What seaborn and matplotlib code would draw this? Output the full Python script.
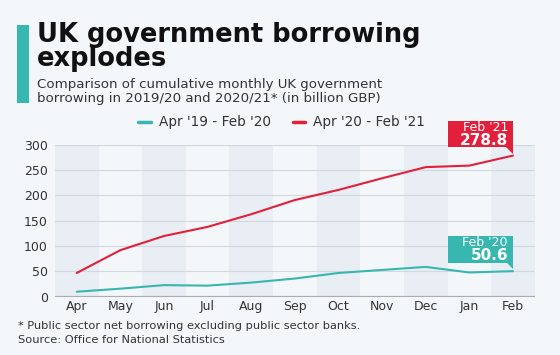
import numpy as np
import pandas as pd
import seaborn as sns
import matplotlib.pyplot as plt
from matplotlib.patches import Rectangle, Polygon
from matplotlib.transforms import ScaledTranslation
from matplotlib.lines import Line2D

# Data (cumulative borrowing, billion GBP)
months = ["Apr", "May", "Jun", "Jul", "Aug", "Sep", "Oct", "Nov", "Dec", "Jan", "Feb"]
borrow_1920 = [10, 16, 23, 22, 28, 36, 47, 53, 59, 48, 50.6]
borrow_2021 = [47, 92, 120, 138, 163, 191, 211, 234, 256, 259, 278.8]
series_names = ["Apr '19 - Feb '20", "Apr '20 - Feb '21"]
end_labels = ["Feb '20", "Feb '21"]

teal = "#38b6b0"
red = "#e3203b"
bg = "#f4f7fa"
band = "#e9eef5"

df = pd.DataFrame({
    "month": months * 2,
    "x": list(range(len(months))) * 2,
    "value": borrow_1920 + borrow_2021,
    "series": [series_names[0]] * len(months) + [series_names[1]] * len(months),
})

sns.set_style("white")
plt.rcParams["font.family"] = ["DejaVu Sans"]

fig = plt.figure(figsize=(5.6, 3.55), dpi=100, facecolor=bg)
ax = fig.add_axes([0.098, 0.164, 0.857, 0.428])
ax.set_facecolor(bg)

# alternating month bands
for i in range(0, len(months), 2):
    ax.axvspan(i - 0.5, i + 0.5, color=band, lw=0, zorder=0)

sns.lineplot(data=df, x="x", y="value", hue="series", palette=[teal, red],
             linewidth=1.5, legend=False, ax=ax, zorder=3)

ax.set_xlim(-0.5, len(months) - 0.5)
ax.set_ylim(0, 300)
ax.set_yticks([0, 50, 100, 150, 200, 250, 300])
ax.set_xticks(range(len(months)))
ax.set_xticklabels(months)
ax.tick_params(axis="both", length=0, labelsize=9, colors="#333333")
ax.tick_params(axis="x", pad=2)
ax.tick_params(axis="y", pad=5)
ax.yaxis.grid(True, color="#d3d8de", lw=0.8, zorder=1)
ax.set_axisbelow(True)
ax.set_xlabel("")
ax.set_ylabel("")
for s in ax.spines.values():
    s.set_visible(False)
ax.axhline(0, color="#a9adb2", lw=1.6, zorder=2)


# end-value callouts
def callout(xv, yv, label, value, color):
    tr = fig.dpi_scale_trans + ScaledTranslation(xv, yv, ax.transData)
    ax.add_patch(Rectangle((-0.65, 0.085), 0.65, 0.265, transform=tr,
                           facecolor=color, edgecolor="none", zorder=5, clip_on=False))
    ax.add_patch(Polygon([(-0.07, 0.09), (0, 0.09), (0, 0.02)], closed=True, transform=tr,
                         facecolor=color, edgecolor="none", zorder=5, clip_on=False))
    ax.text(-0.05, 0.285, label, transform=tr, ha="right", va="center",
            color="white", fontsize=9, zorder=6)
    ax.text(-0.05, 0.155, value, transform=tr, ha="right", va="center",
            color="white", fontsize=11, fontweight="bold", zorder=6)


last = len(months) - 1
callout(last, borrow_1920[-1], end_labels[0], f"{borrow_1920[-1]:.1f}", teal)
callout(last, borrow_2021[-1], end_labels[1], f"{borrow_2021[-1]:.1f}", red)

# legend
handles = [Line2D([0], [0], color=teal, lw=2.5), Line2D([0], [0], color=red, lw=2.5)]
fig.legend(handles, series_names, loc="center", bbox_to_anchor=(0.503, 0.655), ncol=2,
           frameon=False, fontsize=9.8, handlelength=0.9, handletextpad=0.6,
           columnspacing=1.6, labelcolor="#333333")

# title block
fig.patches.append(Rectangle((17 / 560, 1 - 103 / 355), 12 / 560, 78 / 355,
                             transform=fig.transFigure, facecolor=teal, edgecolor="none"))
fig.text(37 / 560, 1 - 42 / 355, "UK government borrowing", fontsize=18.5,
         fontweight="bold", color="#111111", va="baseline")
fig.text(37 / 560, 1 - 66 / 355, "explodes", fontsize=18.5,
         fontweight="bold", color="#111111", va="baseline")
fig.text(37 / 560, 1 - 88 / 355, "Comparison of cumulative monthly UK government",
         fontsize=9.6, color="#333333", va="baseline")
fig.text(37 / 560, 1 - 102 / 355, "borrowing in 2019/20 and 2020/21* (in billion GBP)",
         fontsize=9.6, color="#333333", va="baseline")

# footnotes
fig.text(18 / 560, 1 - 329 / 355, "* Public sector net borrowing excluding public sector banks.",
         fontsize=8.2, color="#333333", va="baseline")
fig.text(18 / 560, 1 - 343 / 355, "Source: Office for National Statistics",
         fontsize=8.2, color="#333333", va="baseline")

fig.savefig("out.png", dpi=100, facecolor=bg)
